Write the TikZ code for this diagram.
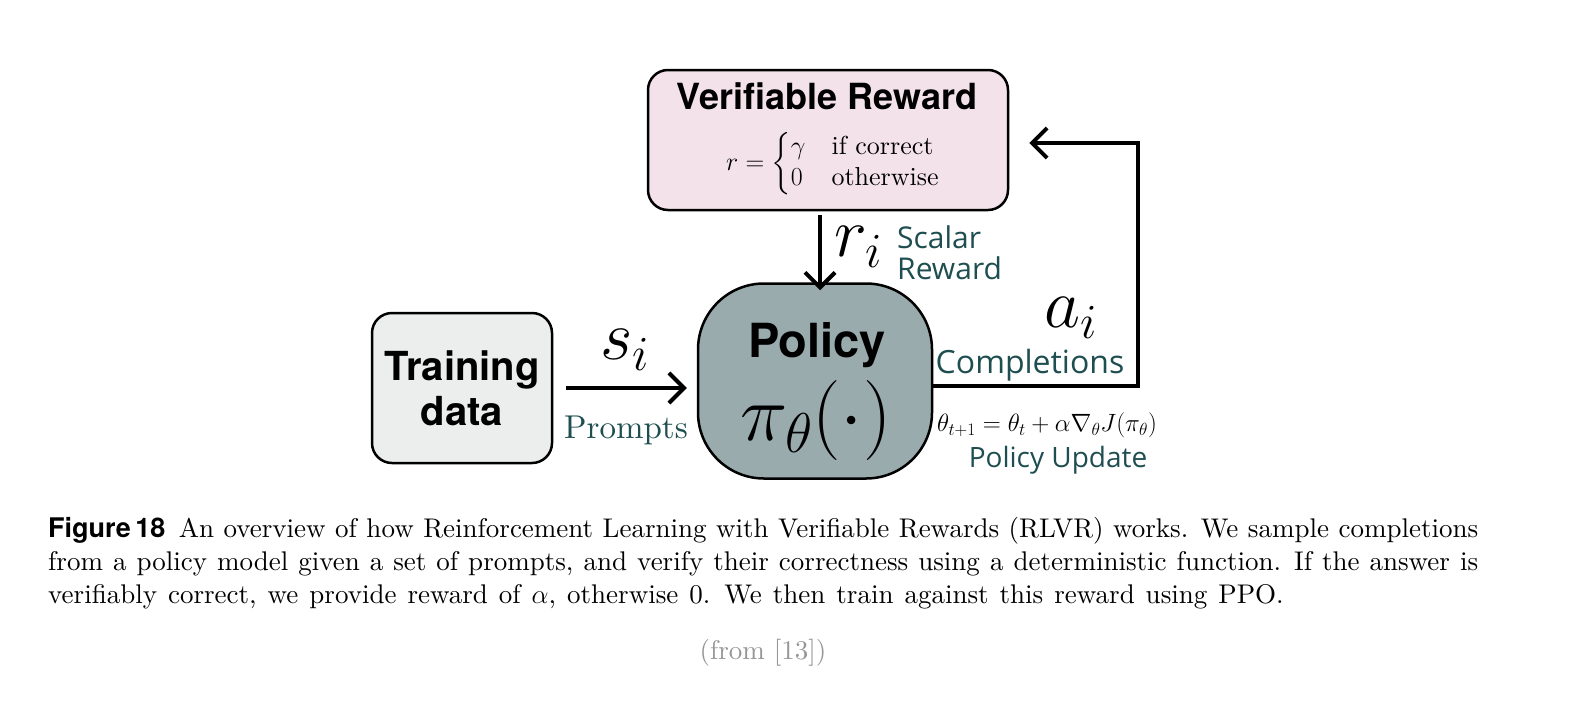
\RequirePackage{fix-cm}
\documentclass[tikz,border=0pt]{standalone}
\usepackage{amsmath}
\usepackage{amssymb}
\usepackage{xcolor}
\usepackage{fontspec}
\usepackage{tikz}
\usetikzlibrary{arrows.meta}
\setmainfont{lmroman10-regular}[Extension=.otf,BoldFont=lmroman10-bold,ItalicFont=lmroman10-italic]
\newfontfamily\boxfont{TeX Gyre Heros}
\newfontfamily\notefont{Open Sans}
\definecolor{rewardfill}{RGB}{243,226,234}
\definecolor{datafill}{RGB}{236,238,238}
\definecolor{policyfill}{RGB}{154,171,174}
\definecolor{noteteal}{RGB}{30,78,80}
\definecolor{sourcegray}{RGB}{150,150,150}

\begin{document}
\begin{tikzpicture}[x=1pt,y=1pt,yscale=-1,xscale=1,
  box/.style={draw=black,line width=2.5pt,rounded corners=20pt,inner sep=0pt},
  flow/.style={line width=4pt,-{Straight Barb[length=15pt,width=30pt]}},
  note/.style={text=noteteal,inner sep=0pt},
  bigmath/.style={inner sep=0pt,font=\fontsize{70}{74}\selectfont}]
\useasboundingbox (0,0) rectangle (1570,726);

% boxes
\node[box,fill=rewardfill,minimum width=360pt,minimum height=140pt] (reward) at (828,140) {};
\node[box,fill=datafill,minimum width=180pt,minimum height=150pt] (data) at (462,388) {};
\node[box,fill=policyfill,rounded corners=66pt,minimum width=234pt,minimum height=195pt] (policy) at (815,381) {};

% box texts
\node[inner sep=0pt,font=\boxfont\bfseries\fontsize{36}{40}\selectfont] (rewardtitle) at (827,96) {Verifiable Reward};
\node[inner sep=0pt,font=\fontsize{26}{31}\selectfont] (rewardeq) at (833,164) {$r=\left\{\def\arraystretch{1}\begin{array}{@{}l@{\quad}l@{}}\gamma & \text{if correct}\\ 0 & \text{otherwise}\end{array}\right.$};
\node[inner sep=0pt,align=center,font=\boxfont\bfseries\fontsize{40}{45}\selectfont] (datatext) at (462,388) {Training\\data};
\node[inner sep=0pt,font=\boxfont\bfseries\fontsize{47}{50}\selectfont] (policytitle) at (817,345) {Policy};
\node[inner sep=0pt,font=\fontsize{80}{84}\selectfont] (policyeq) at (816,420) {$\pi_\theta(\cdot)$};

% labels
\node[bigmath] (si) at (625,350) {$s_i$};
\node[note,font=\fontsize{33}{36}\selectfont] (prompts) at (626,430) {Prompts};
\node[bigmath] (ri) at (858,247) {$r_i$};
\node[note,align=left,anchor=west,font=\notefont\fontsize{30}{31}\selectfont] (scalar) at (897,253) {Scalar\\Reward};
\node[bigmath] (ai) at (1071,318) {$a_i$};
\node[note,font=\notefont\fontsize{32}{36}\selectfont] (compl) at (1030,365) {Completions};
\node[inner sep=0pt,font=\fontsize{25}{28}\selectfont] (update) at (1047,425) {$\theta_{t+1}=\theta_t+\alpha\nabla_\theta J(\pi_\theta)$};
\node[note,font=\notefont\fontsize{28}{32}\selectfont] (updatetext) at (1058,460) {Policy Update};

% connectors
\coordinate (rewardout) at (820,212);
\coordinate (fbcorner) at (1138,386);
\coordinate (fbtop) at (1138,143);
\draw[flow,shorten <=3pt,shorten >=-8pt] (rewardout) -- (rewardout |- policy.north);
\draw[flow,shorten <=13pt,shorten >=10pt] (data.east) -- (data.east -| policy.west);
\draw[flow,shorten >=20pt] (policy.east |- fbcorner) -- (fbcorner) -- (fbtop) -- (fbtop -| reward.east);

% caption
\node[anchor=north west,inner sep=0pt,text width=1430pt,align=justify,font=\fontsize{27}{33}\selectfont] (caption) at (48,517) {\spaceskip=11pt plus 6pt minus 3pt\xspaceskip=14pt plus 6pt minus 3pt
{\boxfont\bfseries Figure\,18}\enspace An overview of how Reinforcement Learning with Verifiable Rewards (RLVR) works. We sample completions\linebreak from a policy model given a set of prompts, and verify their correctness using a deterministic function. If the answer is\linebreak verifiably correct, we provide reward of $\alpha$, otherwise 0. We then train against this reward using PPO.};
\node[inner sep=0pt,text=sourcegray,font=\fontsize{27}{30}\selectfont] (source) at (763,653) {(from [13])};
\end{tikzpicture}
\end{document}
